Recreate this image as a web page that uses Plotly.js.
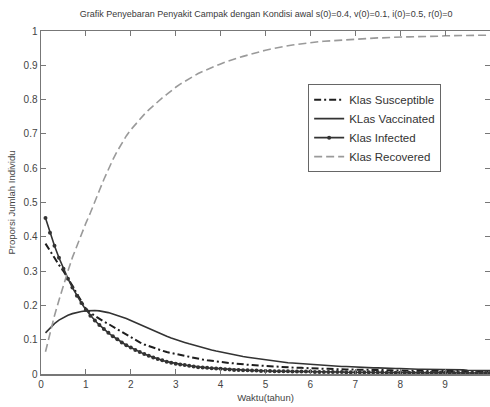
<!DOCTYPE html>
<html>
<head>
<meta charset="utf-8">
<script src="https://cdn.plot.ly/plotly-3.0.1.min.js"></script>
<style>html,body{margin:0;padding:0;background:#fff;}#chart{width:490px;height:407px;}</style>
</head>
<body>
<div id="chart"></div>
<script>
// Time (tahun), sampled every 0.1
const waktu = [0.1,0.2,0.3,0.4,0.5,0.6,0.7,0.8,0.9,1.0,
  1.1,1.2,1.3,1.4,1.5,1.6,1.7,1.8,1.9,2.0,
  2.1,2.2,2.3,2.4,2.5,2.6,2.7,2.8,2.9,3.0,
  3.1,3.2,3.3,3.4,3.5,3.6,3.7,3.8,3.9,4.0,
  4.1,4.2,4.3,4.4,4.5,4.6,4.7,4.8,4.9,5.0,
  5.1,5.2,5.3,5.4,5.5,5.6,5.7,5.8,5.9,6.0,
  6.1,6.2,6.3,6.4,6.5,6.6,6.7,6.8,6.9,7.0,
  7.1,7.2,7.3,7.4,7.5,7.6,7.7,7.8,7.9,8.0,
  8.1,8.2,8.3,8.4,8.5,8.6,8.7,8.8,8.9,9.0,
  9.1,9.2,9.3,9.4,9.5,9.6,9.7,9.8,9.9,10.0];

const susceptible = [0.380,0.358,0.337,0.318,0.300,0.280,0.257,0.234,0.211,0.190,
  0.178,0.169,0.161,0.153,0.146,0.138,0.130,0.122,0.114,0.106,
  0.099,0.092,0.086,0.081,0.076,0.072,0.068,0.064,0.061,0.058,
  0.055,0.052,0.049,0.046,0.044,0.042,0.040,0.038,0.036,0.035,
  0.033,0.032,0.031,0.029,0.028,0.027,0.026,0.025,0.024,0.023,
  0.022,0.021,0.021,0.020,0.019,0.019,0.018,0.018,0.017,0.016,
  0.016,0.015,0.015,0.015,0.014,0.014,0.014,0.013,0.013,0.013,
  0.012,0.012,0.012,0.012,0.011,0.011,0.011,0.011,0.010,0.010,
  0.010,0.010,0.010,0.009,0.009,0.009,0.009,0.009,0.009,0.008,
  0.008,0.008,0.008,0.008,0.008,0.008,0.008,0.008,0.008,0.008];

const vaccinated = [0.120,0.135,0.147,0.157,0.165,0.171,0.176,0.180,0.182,0.184,
  0.185,0.185,0.184,0.182,0.179,0.175,0.171,0.167,0.162,0.156,
  0.150,0.144,0.138,0.132,0.126,0.120,0.115,0.110,0.105,0.100,
  0.096,0.092,0.088,0.084,0.080,0.077,0.073,0.070,0.067,0.064,
  0.061,0.058,0.056,0.053,0.051,0.049,0.047,0.045,0.043,0.041,
  0.039,0.038,0.036,0.035,0.033,0.032,0.031,0.030,0.029,0.028,
  0.027,0.026,0.025,0.024,0.024,0.023,0.022,0.022,0.021,0.020,
  0.020,0.019,0.019,0.018,0.018,0.017,0.017,0.016,0.016,0.016,
  0.015,0.015,0.015,0.014,0.014,0.014,0.013,0.013,0.013,0.013,
  0.012,0.012,0.012,0.012,0.011,0.011,0.011,0.011,0.010,0.010];

const infected = [0.455,0.412,0.374,0.339,0.307,0.278,0.252,0.228,0.207,0.187,
  0.170,0.156,0.143,0.131,0.120,0.110,0.101,0.092,0.084,0.077,
  0.070,0.064,0.058,0.053,0.048,0.044,0.040,0.036,0.033,0.030,
  0.028,0.026,0.024,0.022,0.020,0.019,0.018,0.017,0.016,0.015,
  0.014,0.013,0.012,0.012,0.011,0.011,0.010,0.010,0.009,0.009,
  0.009,0.008,0.008,0.008,0.008,0.007,0.007,0.007,0.007,0.007,
  0.006,0.006,0.006,0.006,0.006,0.006,0.006,0.005,0.005,0.005,
  0.005,0.005,0.005,0.005,0.005,0.005,0.004,0.004,0.004,0.004,
  0.004,0.004,0.004,0.004,0.004,0.004,0.004,0.004,0.004,0.004,
  0.004,0.003,0.003,0.003,0.003,0.003,0.003,0.003,0.003,0.003];

const recovered = [0.065,0.120,0.170,0.215,0.260,0.300,0.340,0.375,0.410,0.440,
  0.470,0.500,0.535,0.567,0.597,0.625,0.650,0.673,0.694,0.712,
  0.728,0.743,0.757,0.770,0.782,0.794,0.805,0.815,0.826,0.836,
  0.845,0.853,0.861,0.869,0.876,0.882,0.888,0.894,0.899,0.904,
  0.909,0.914,0.918,0.922,0.926,0.930,0.934,0.938,0.941,0.944,
  0.947,0.950,0.953,0.955,0.957,0.959,0.961,0.963,0.965,0.967,
  0.968,0.969,0.970,0.971,0.972,0.973,0.974,0.975,0.976,0.977,
  0.978,0.978,0.979,0.979,0.980,0.980,0.981,0.981,0.982,0.982,
  0.983,0.983,0.983,0.984,0.984,0.984,0.985,0.985,0.985,0.986,
  0.986,0.986,0.986,0.987,0.987,0.987,0.987,0.988,0.988,0.988];

const seriesNames = ['Klas Susceptible','KLas Vaccinated','Klas Infected','Klas Recovered'];
const xTicks = [0,1,2,3,4,5,6,7,8,9,10];
const yTicks = [0,0.1,0.2,0.3,0.4,0.5,0.6,0.7,0.8,0.9,1];

const FONT = 'Liberation Sans, Arial, sans-serif';

const traces = [
  {x: waktu, y: susceptible, name: seriesNames[0], mode: 'lines',
   line: {color: '#1e1e1e', width: 2, dash: '7px,3px,2px,3px'}},
  {x: waktu, y: vaccinated, name: seriesNames[1], mode: 'lines',
   line: {color: '#333333', width: 1.6}},
  {x: waktu, y: infected, name: seriesNames[2], mode: 'lines+markers',
   line: {color: '#333333', width: 1.6},
   marker: {color: '#333333', size: 4, symbol: 'circle'}},
  {x: waktu, y: recovered, name: seriesNames[3], mode: 'lines',
   line: {color: '#9a9a9a', width: 1.6, dash: '8px,4px'}}
];

const layout = {
  width: 490, height: 407,
  margin: {l: 41, r: 0, t: 31, b: 33, pad: 0},
  paper_bgcolor: '#ffffff', plot_bgcolor: '#ffffff',
  font: {family: FONT, size: 10, color: '#3a3a3a'},
  title: {text: 'Grafik Penyebaran Penyakit Campak dengan Kondisi awal s(0)=0.4, v(0)=0.1, i(0)=0.5, r(0)=0',
          font: {family: FONT, size: 9, color: '#3a3a3a'},
          x: 0.543, xanchor: 'center', y: 0.966, yanchor: 'middle'},
  xaxis: {range: [0, 10], tickvals: xTicks, ticktext: xTicks.map(String),
          ticks: 'inside', ticklen: 5, tickcolor: '#777', tickwidth: 1,
          showline: true, linecolor: '#777', linewidth: 1.5, mirror: 'ticks',
          showgrid: false, zeroline: false,
          tickfont: {family: FONT, size: 10, color: '#444'},
          title: {text: 'Waktu(tahun)', font: {family: FONT, size: 9.5, color: '#444'}, standoff: 6}},
  yaxis: {range: [0, 1], tickvals: yTicks, ticktext: yTicks.map(String),
          ticks: 'inside', ticklen: 5, tickcolor: '#777', tickwidth: 1,
          showline: true, linecolor: '#777', linewidth: 1.5, mirror: 'ticks',
          showgrid: false, zeroline: false,
          tickfont: {family: FONT, size: 10, color: '#444'},
          title: {text: 'Proporsi Jumlah Individu', font: {family: FONT, size: 9.5, color: '#444'}, standoff: 6}},
  showlegend: true,
  legend: {x: 0.595, y: 0.845, xanchor: 'left', yanchor: 'top',
           bgcolor: '#ffffff', bordercolor: '#666', borderwidth: 1,
           font: {family: FONT, size: 11.5, color: '#333'},
           itemwidth: 30, tracegroupgap: 0}
};

Plotly.newPlot('chart', traces, layout, {staticPlot: true, displayModeBar: false});
</script>
</body>
</html>
